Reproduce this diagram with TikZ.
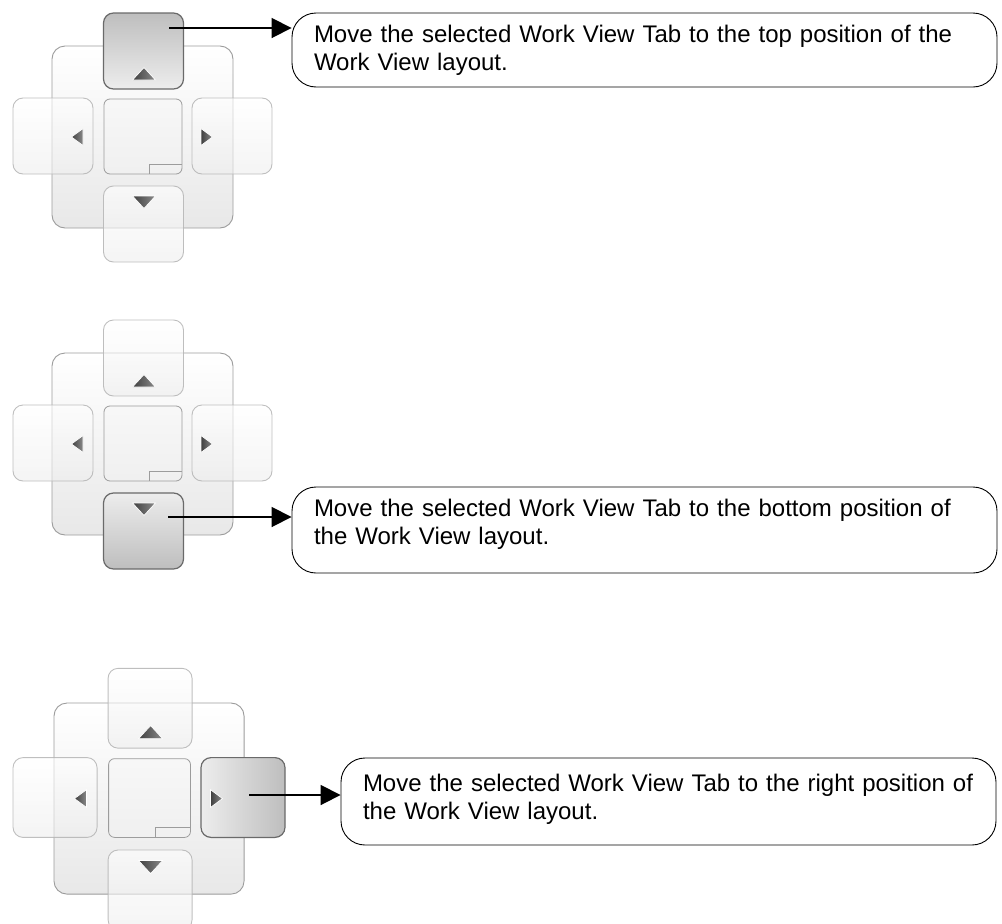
\documentclass[tikz,border=0pt]{standalone}
\usepackage{fontspec}
\setmainfont{Liberation Sans}
\usetikzlibrary{arrows.meta,calc}
\definecolor{mainedge}{HTML}{9C9C9C}
\definecolor{tabedge}{HTML}{B4B4B4}
\definecolor{seledge}{HTML}{6A6A6A}
\definecolor{seldark}{HTML}{BEBEBE}
\definecolor{sellight}{HTML}{EDEDED}
\definecolor{tridark}{HTML}{404040}
\definecolor{trilight}{HTML}{8A8A8A}
\tikzset{
  widgetbase/.style={inner sep=0pt, outer sep=0pt},
  mainbox/.style={widgetbase, draw=mainedge, line width=0.9pt, rounded corners=13pt,
    top color=white, bottom color=black!9, minimum width=181pt, minimum height=182pt},
  centerbox/.style={widgetbase, draw=mainedge, line width=0.8pt, rounded corners=6pt,
    top color=white!97!black, bottom color=black!6, minimum width=78pt, minimum height=75pt},
  smallbox/.style={draw=mainedge, line width=0.8pt},
  tabbox/.style={widgetbase, draw=tabedge, draw opacity=0.85, line width=0.9pt, rounded corners=10pt,
    top color=white, bottom color=black!7, fill opacity=0.6, minimum width=80pt, minimum height=76pt},
  selbox/.style={widgetbase, draw=seledge, line width=1.2pt, rounded corners=10pt,
    minimum width=80pt, minimum height=76pt},
  selup/.style={selbox, top color=seldark, bottom color=sellight},
  seldown/.style={selbox, top color=sellight, bottom color=seldark},
  selright/.style={selbox, left color=sellight, right color=seldark},
  tri/.style={draw=white, line width=0.7pt, left color=tridark, right color=trilight},
  callout/.style={draw=black, line width=0.9pt, rounded corners=24pt, fill=white,
    inner xsep=22pt, inner ysep=0pt, align=left, font=\fontsize{24}{28}\selectfont},
  conn/.style={line width=1.8pt, -{Triangle[length=20pt,width=20pt]}},
}
\newcommand\dwidget[7]{%
  \begin{scope}[shift={#2},scale=#3,transform shape]
    \node[mainbox] (#1main) at (90.5,91) {};
    \node[centerbox] (#1center) at (91,90.5) {};
    \draw[smallbox] ($(#1center.south east)+(0,-10)$) -- ++(-33,0) -- ++(0,10);
    \node[#5] (#1left) at (1,90) {};
    \node[#6] (#1right) at (180,90) {};
    \node[#4] (#1top) at (91.5,5) {};
    \node[#7] (#1bottom) at (91.5,178) {};
    \path[tri] (92,21.5) -- (80.5,34) -- (103.5,34) -- cycle;
    \path[tri] (19.5,91) -- (31,82.5) -- (31,99.5) -- cycle;
    \path[tri] (160.5,91) -- (149,82.5) -- (149,99.5) -- cycle;
    \path[tri] (92,162.5) -- (80.5,150) -- (103.5,150) -- cycle;
  \end{scope}}
\begin{document}
\begin{tikzpicture}[x=1pt,y=-1pt]
  \useasboundingbox (0,0) rectangle (1002,924);
  \dwidget{a}{(52,46)}{1}{selup}{tabbox}{tabbox}{tabbox}
  \dwidget{b}{(52,353)}{1}{tabbox}{tabbox}{tabbox}{seldown}
  \dwidget{c}{(54,703)}{1.05}{tabbox}{tabbox}{selright}{tabbox}

  \node[callout, text width=661pt, minimum height=74pt] (c1) at (644.5,50)
    {Move the selected Work View Tab to the top position of the\\Work View layout.};
  \node[callout, text width=661pt, minimum height=86pt] (c2) at (644.5,530)
    {Move the selected Work View Tab to the bottom position of\\the Work View layout.\rule[-17pt]{0pt}{17pt}};
  \node[callout, text width=611pt, minimum height=87pt] (c3) at (668.5,801.5)
    {Move the selected Work View Tab to the right position of\\the Work View layout.\rule[-9pt]{0pt}{9pt}};

  \coordinate (s1) at (169,28);
  \coordinate (s2) at (168,517);
  \coordinate (s3) at (249,795);
  \draw[conn] (s1) -- (s1 -| c1.west);
  \draw[conn] (s2) -- (s2 -| c2.west);
  \draw[conn] (s3) -- (s3 -| c3.west);
\end{tikzpicture}
\end{document}
